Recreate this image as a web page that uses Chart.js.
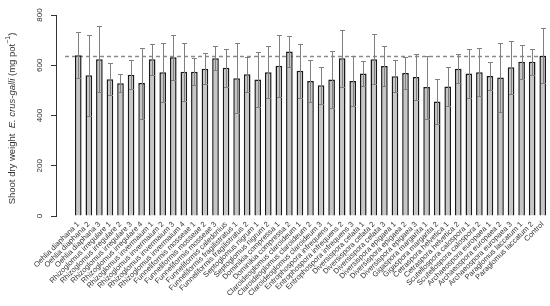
<!DOCTYPE html>
<html>
<head>
<meta charset="utf-8">
<script src="https://cdn.jsdelivr.net/npm/chart.js@4.4.1/dist/chart.umd.min.js"></script>
<style>
  html, body { margin: 0; padding: 0; background: #ffffff; }
  #wrap { width: 550px; height: 306px; }
</style>
</head>
<body>
<div id="wrap"><canvas id="c" width="550" height="306"></canvas></div>
<script>
const categories = [
  'Oehlia diaphana 1', 'Oehlia diaphana 2', 'Oehlia diaphana 3',
  'Rhizoglomus irregulare 1', 'Rhizoglomus irregulare 2', 'Rhizoglomus irregulare 3', 'Rhizoglomus irregulare 4',
  'Rhizoglomus invermaium 1', 'Rhizoglomus invermaium 2', 'Rhizoglomus invermaium 3', 'Rhizoglomus invermaium 4',
  'Funneliformis mosseae 1', 'Funneliformis mosseae 2', 'Funneliformis mosseae 3',
  'Funneliformis caledonius',
  'Funneliformis fragilistratus 1', 'Funneliformis fragilistratus 2',
  'Septoglomus nigrum 1', 'Septoglomus nigrum 2',
  'Dominikia compressa 1', 'Dominikia compressa 2',
  'Claroideoglomus claroideum 1', 'Claroideoglomus claroideum 2', 'Claroideoglomus claroideum 3',
  'Entrophospora infrequens 1', 'Entrophospora infrequens 2', 'Entrophospora infrequens 3',
  'Diversispora celata 1', 'Diversispora celata 2', 'Diversispora celata 3',
  'Diversispora epigaea 1', 'Diversispora epigaea 2', 'Diversispora epigaea 3',
  'Gigaspora margarita 1', 'Gigaspora margarita 2',
  'Cetraspora helvetica 1', 'Cetraspora helvetica 2',
  'Scutellospora calospora 1', 'Scutellospora calospora 2',
  'Archaeospora europaea 1', 'Archaeospora europaea 2', 'Archaeospora europaea 3',
  'Paraglomus laccatum 1', 'Paraglomus laccatum 2',
  'Control'
];
const meanWeight = [
  640, 560, 624, 544, 528, 562, 529, 624, 572, 632,
  574, 574, 586, 628, 590, 548, 564, 543, 572, 598,
  655, 578, 537, 520, 543, 628, 537, 567, 624, 597,
  556, 569, 553, 513, 456, 515, 586, 567, 572, 557,
  551, 592, 614, 614, 638
];
const sdWeight = [
  92, 160, 131, 64, 36, 57, 141, 62, 118, 90,
  115, 54, 62, 47, 76, 140, 70, 109, 103, 123,
  62, 107, 83, 74, 112, 113, 100, 50, 99, 79,
  64, 64, 90, 125, 88, 79, 58, 99, 96, 56,
  138, 106, 67, 52, 110
];
const yTicks = [0, 200, 400, 600, 800];
const controlIndex = categories.length - 1;

const FONT = 'Arial, "Liberation Sans", Helvetica, sans-serif';

const refLine = {
  id: 'refLine',
  beforeDatasetsDraw(chart) {
    const { ctx, chartArea, scales: { y } } = chart;
    const py = Math.round(y.getPixelForValue(meanWeight[controlIndex])) + 0.5;
    ctx.save();
    ctx.strokeStyle = '#8a8a8a';
    ctx.lineWidth = 1.5;
    ctx.setLineDash([4, 3]);
    ctx.beginPath();
    ctx.moveTo(chartArea.left + 9, py);
    ctx.lineTo(chartArea.right, py);
    ctx.stroke();
    ctx.restore();
  }
};

const errorBars = {
  id: 'errorBars',
  afterDatasetsDraw(chart) {
    const { ctx, scales: { y } } = chart;
    const meta = chart.getDatasetMeta(0);
    ctx.save();
    ctx.strokeStyle = '#808080';
    ctx.lineWidth = 1;
    meta.data.forEach((bar, i) => {
      const m = meanWeight[i], s = sdWeight[i];
      const yt = Math.round(y.getPixelForValue(m + s)) + 0.5;
      const yb = Math.round(y.getPixelForValue(m - s)) + 0.5;
      const x = Math.round(bar.x) + 0.5;
      ctx.beginPath();
      ctx.moveTo(x, yt); ctx.lineTo(x, yb);
      ctx.moveTo(x - 2.5, yt); ctx.lineTo(x + 2.5, yt);
      ctx.moveTo(x - 2.5, yb); ctx.lineTo(x + 2.5, yb);
      ctx.stroke();
    });
    ctx.restore();
  }
};

const yTitle = {
  id: 'yTitle',
  afterDraw(chart) {
    const { ctx, chartArea } = chart;
    const normal = '9.5px ' + FONT;
    const parts = [
      { t: 'Shoot dry weight  ', f: normal, dy: 0 },
      { t: 'E. crus-galli', f: 'italic 9.5px ' + FONT, dy: 0 },
      { t: ' (mg pot', f: normal, dy: 0 },
      { t: '\u22121', f: '7px ' + FONT, dy: -3.5 },
      { t: ')', f: normal, dy: 0 }
    ];
    ctx.save();
    ctx.fillStyle = '#333333';
    ctx.textBaseline = 'middle';
    let total = 0;
    parts.forEach(p => { ctx.font = p.f; p.w = ctx.measureText(p.t).width; total += p.w; });
    ctx.translate(12, (chartArea.top + chartArea.bottom) / 2 + 3);
    ctx.rotate(-Math.PI / 2);
    let x = -total / 2;
    parts.forEach(p => { ctx.font = p.f; ctx.fillText(p.t, x, p.dy); x += p.w; });
    ctx.restore();
  }
};

new Chart(document.getElementById('c'), {
  type: 'bar',
  data: {
    datasets: [{
      data: meanWeight.map((v, i) => ({ x: i, y: v })),
      backgroundColor: '#c6c6c6',
      borderColor: '#1a1a1a',
      borderWidth: 1.5,
      categoryPercentage: 1,
      barPercentage: 0.63
    }]
  },
  options: {
    responsive: false,
    animation: false,
    devicePixelRatio: 1,
    layout: { padding: { top: 15, right: 2, left: 0, bottom: 0 } },
    plugins: { legend: { display: false }, tooltip: { enabled: false }, title: { display: false } },
    scales: {
      x: {
        type: 'linear',
        offset: false,
        min: -2.11,
        max: 44.5,
        grid: { display: false },
        border: { display: false },
        afterBuildTicks: s => { s.ticks = categories.map((_, i) => ({ value: i })); },
        afterFit: s => { s.height = 90; },
        ticks: {
          autoSkip: false,
          minRotation: 45,
          maxRotation: 45,
          padding: -4,
          color: '#333333',
          font: { family: FONT, size: 7.5 },
          callback: v => categories[v] ?? ''
        }
      },
      y: {
        min: 0,
        max: 800,
        grid: { display: true, drawOnChartArea: false, drawTicks: true, tickLength: 5, color: '#333333' },
        border: { display: true, color: '#333333', width: 1 },
        afterBuildTicks: s => { s.ticks = yTicks.map(v => ({ value: v })); },
        afterFit: s => { s.width = 56; },
        ticks: {
          minRotation: 90,
          maxRotation: 90,
          crossAlign: 'center',
          padding: 5,
          color: '#333333',
          font: { family: FONT, size: 8 }
        }
      }
    }
  },
  plugins: [refLine, errorBars, yTitle]
});
</script>
</body>
</html>
